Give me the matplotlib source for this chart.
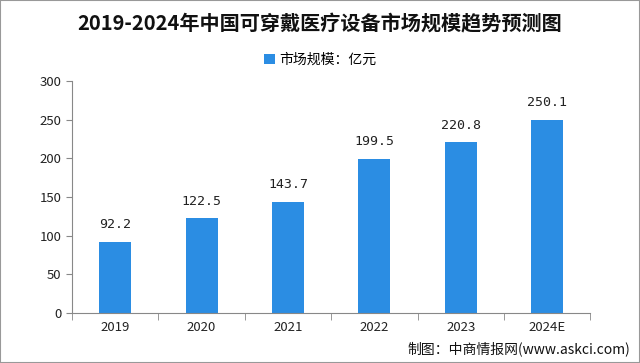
import matplotlib.pyplot as plt
from matplotlib.patches import Rectangle

plt.rcParams['font.family'] = ['Noto Sans CJK SC', 'DejaVu Sans']

years = ['2019', '2020', '2021', '2022', '2023', '2024E']
market = [92.2, 122.5, 143.7, 199.5, 220.8, 250.1]
yticks = [0, 50, 100, 150, 200, 250, 300]

bar_color = '#2b8de3'

fig = plt.figure(figsize=(6.4, 3.63), dpi=100)
ax = fig.add_axes([0.1125, 0.138, 0.81, 0.639])

x = list(range(len(years)))
bars = ax.bar(x, market, width=0.37, color=bar_color, label='市场规模：亿元')
for xi, v in zip(x, market):
    ax.text(xi, v + 22, f'{v}', ha='center', va='center', fontsize=9.5, color='#222222',
            family='DejaVu Sans Mono')

ax.set_xlim(-0.5, len(years) - 0.5)
ax.set_ylim(0, 300)
ax.set_yticks(yticks)
ax.set_xticks(x)
ax.set_xticklabels(years, fontsize=9.5, color='#222222')
ax.tick_params(axis='x', length=0, pad=6)
ax.tick_params(axis='y', labelsize=9.5, colors='#222222', length=4, color='#888888')
# category boundary ticks on the x axis
ax.set_xticks([i - 0.5 for i in range(len(years) + 1)], minor=True)
ax.tick_params(axis='x', which='minor', length=5, color='#888888')

for s in ['top', 'right']:
    ax.spines[s].set_visible(False)
for s in ['left', 'bottom']:
    ax.spines[s].set_color('#888888')

fig.text(0.5, 0.935, '2019-2024年中国可穿戴医疗设备市场规模趋势预测图', ha='center', va='center',
         fontsize=14.5, fontweight='bold', color='#111111')
fig.legend(loc='center', bbox_to_anchor=(0.5, 0.835), frameon=False, fontsize=10,
           handlelength=0.8, handleheight=0.8, handletextpad=0.3)
fig.text(0.985, 0.04, '制图：中商情报网(www.askci.com)', ha='right', va='center', fontsize=10,
         color='#111111')

fig.patches.append(Rectangle((0, 0), 1, 1, transform=fig.transFigure, fill=False,
                             edgecolor='#999999', linewidth=1.5))

fig.savefig('out.png', dpi=100)
